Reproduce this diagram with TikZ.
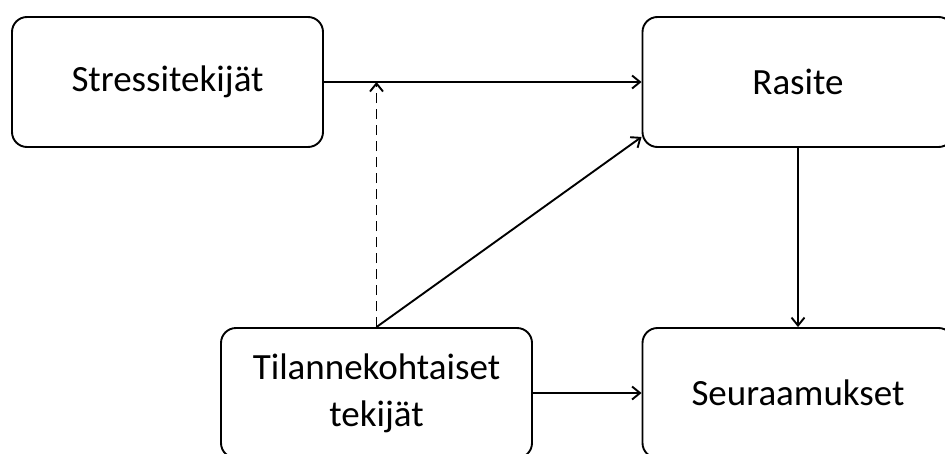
\documentclass[tikz,border=0pt]{standalone}
\usepackage{fontspec}
\setmainfont{Carlito}
\usetikzlibrary{arrows.meta}
\begin{document}
\begin{tikzpicture}[x=1pt,y=-1pt,
  box/.style={draw=black, line width=1.9pt, rounded corners=15pt, minimum width=311pt, minimum height=130pt, inner sep=0pt, align=center, font=\fontsize{37}{47}\selectfont},
  conn/.style={line width=1.9pt, -{Straight Barb[length=8pt,width=13pt,line width=1.9pt]}}]
\useasboundingbox (0,0) rectangle (945,453);
\node[box] (stress) at (167.5,82) {Stressitekijät};
\node[box] (rasite) at (798,82) {Rasite};
\node[box] (tilanne) at (376.5,393) {\raisebox{-2pt}{}Tilannekohtaiset\\tekijät};
\node[box] (seur) at (798,393) {Seuraamukset};
\coordinate (meet) at (tilanne.north |- stress.east);
\coordinate (rsw) at ([yshift=11pt]rasite.south west);
\draw[conn] (stress.east) -- (rasite.west);
\draw[conn, dash pattern=on 10pt off 6pt] (tilanne.north) -- (meet);
\draw[conn] (tilanne.north) -- (rsw);
\draw[conn] (rasite.south) -- (seur.north);
\draw[conn] (tilanne.east) -- (seur.west);
\end{tikzpicture}
\end{document}
